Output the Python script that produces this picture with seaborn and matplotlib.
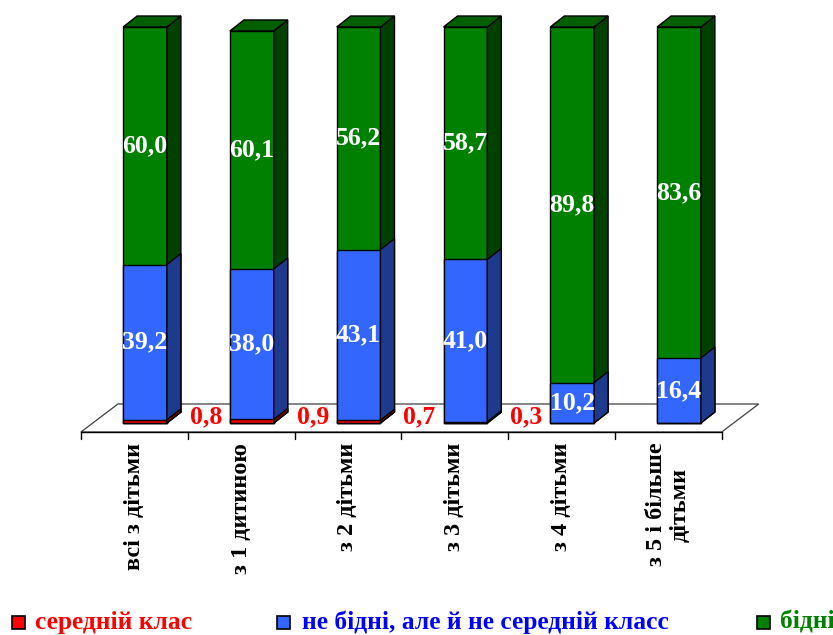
import matplotlib
matplotlib.use("Agg")
import matplotlib.pyplot as plt
import seaborn as sns
import numpy as np
from matplotlib.patches import Rectangle

categories = ["всі з дітьми", "з 1 дитиною", "з 2 дітьми", "з 3 дітьми",
              "з 4 дітьми", "з 5 і більше\nдітьми"]
middle_class = [0.8, 0.9, 0.7, 0.3, 0.0, 0.0]
not_poor = [39.2, 38.0, 43.1, 41.0, 10.2, 16.4]
poor = [60.0, 60.1, 56.2, 58.7, 89.8, 83.6]
middle_labels = ["0,8", "0,9", "0,7", "0,3", None, None]
series_names = ["середній клас", "не бідні, але й не середній класс", "бідні"]

sns.set_style("white")
plt.rcParams["font.family"] = ["Liberation Serif", "DejaVu Serif"]
plt.rcParams["font.weight"] = "bold"

fig = plt.figure(figsize=(8.33, 6.35), dpi=100)
ax = fig.add_axes([0, 0, 1, 1])

# pixel geometry of the 3d look: 106.8 px per category, 3.96 px per percent
px_x = 1 / 106.8
px_y = 1 / 3.96
bar_w = 0.41
dx, dy = 14 * px_x, 11 * px_y

n = len(categories)
xs = np.arange(n)
red = np.array(middle_class)
blue_top = red + np.array(not_poor)
green_top = blue_top + np.array(poor)

# floor
fx0, fx1 = -0.6, n - 0.6
fy = -9 * px_y
fdx, fdy = 37 * px_x, 28 * px_y
ax.fill([fx0, fx1, fx1 + fdx, fx0 + fdx], [fy, fy, fy + fdy, fy + fdy],
        facecolor="white", edgecolor="#404040", linewidth=0.9, zorder=1)
ax.plot([fx0, fx1], [fy, fy], color="black", linewidth=1.0, zorder=1.5)
for k in range(n + 1):
    ax.plot([fx0 + k, fx0 + k], [fy, fy - 7 * px_y], color="black", linewidth=1.0, zorder=1.5)

# stacked by overdrawing: total first, then the lower parts on top
layers = [
    (green_top, blue_top, "#008000", "#004000", True, 3),
    (blue_top, red, "#3366FF", "#1E3A8C", False, 4),
    (red, np.zeros(n), "#E00000", "#800000", False, 5),
]
for tops, bottoms, front, side, with_top, z in layers:
    sns.barplot(x=categories, y=tops, color=front, saturation=1, width=bar_w,
                edgecolor="black", linewidth=1.0, errorbar=None, ax=ax, zorder=z)
    for i in range(n):
        if tops[i] <= 0:
            continue
        xr = xs[i] + bar_w / 2
        xl = xs[i] - bar_w / 2
        ax.fill([xr, xr + dx, xr + dx, xr],
                [0, dy, tops[i] + dy, tops[i]],
                facecolor=side, edgecolor="black", linewidth=1.0, zorder=z)
        if with_top:
            ax.fill([xl, xl + dx, xr + dx, xr],
                    [tops[i], tops[i] + dy, tops[i] + dy, tops[i]],
                    facecolor="#006000", edgecolor="black", linewidth=1.0, zorder=z)

# data labels
for i in range(n):
    ax.text(xs[i], (blue_top[i] + green_top[i]) / 2, f"{poor[i]:.1f}".replace(".", ","),
            ha="center", va="center", color="white", fontsize=18.5, fontweight="bold", zorder=10)
    ax.text(xs[i], (red[i] + blue_top[i]) / 2, f"{not_poor[i]:.1f}".replace(".", ","),
            ha="center", va="center", color="white", fontsize=18.5, fontweight="bold", zorder=10)
    if middle_labels[i]:
        ax.text(xs[i] + 0.57, 1.6, middle_labels[i], ha="center", va="center",
                color="#FF0000", fontsize=18.5, fontweight="bold", zorder=10)

# category labels
for i, lab in enumerate(categories):
    ax.text(fx0 + i + 0.5, -5.0, lab, rotation=90, ha="center", va="top",
            multialignment="center", fontsize=17.5, fontweight="bold", color="black")

ax.set_xlim(-145 * px_x, (833 - 145) * px_x)
ax.set_ylim(-(635 - 423) * px_y, 423 * px_y)
ax.set_axis_off()

# legend
legend_items = [
    (12, 35, "#FF0000", "#FF0000", series_names[0]),
    (277, 302, "#3366FF", "#0000FF", series_names[1]),
    (757, 780, "#008000", "#008000", series_names[2]),
]
for sx, tx, sq, tc, name in legend_items:
    fig.patches.append(Rectangle((sx / 833, 1 - 629 / 635), 13 / 833, 13 / 635,
                                 transform=fig.transFigure, facecolor=sq,
                                 edgecolor="black", linewidth=1.2))
    fig.text(tx / 833, 1 - 622 / 635, name, ha="left", va="center",
             color=tc, fontsize=18.4, fontweight="bold")

fig.savefig("out.png", dpi=100)
